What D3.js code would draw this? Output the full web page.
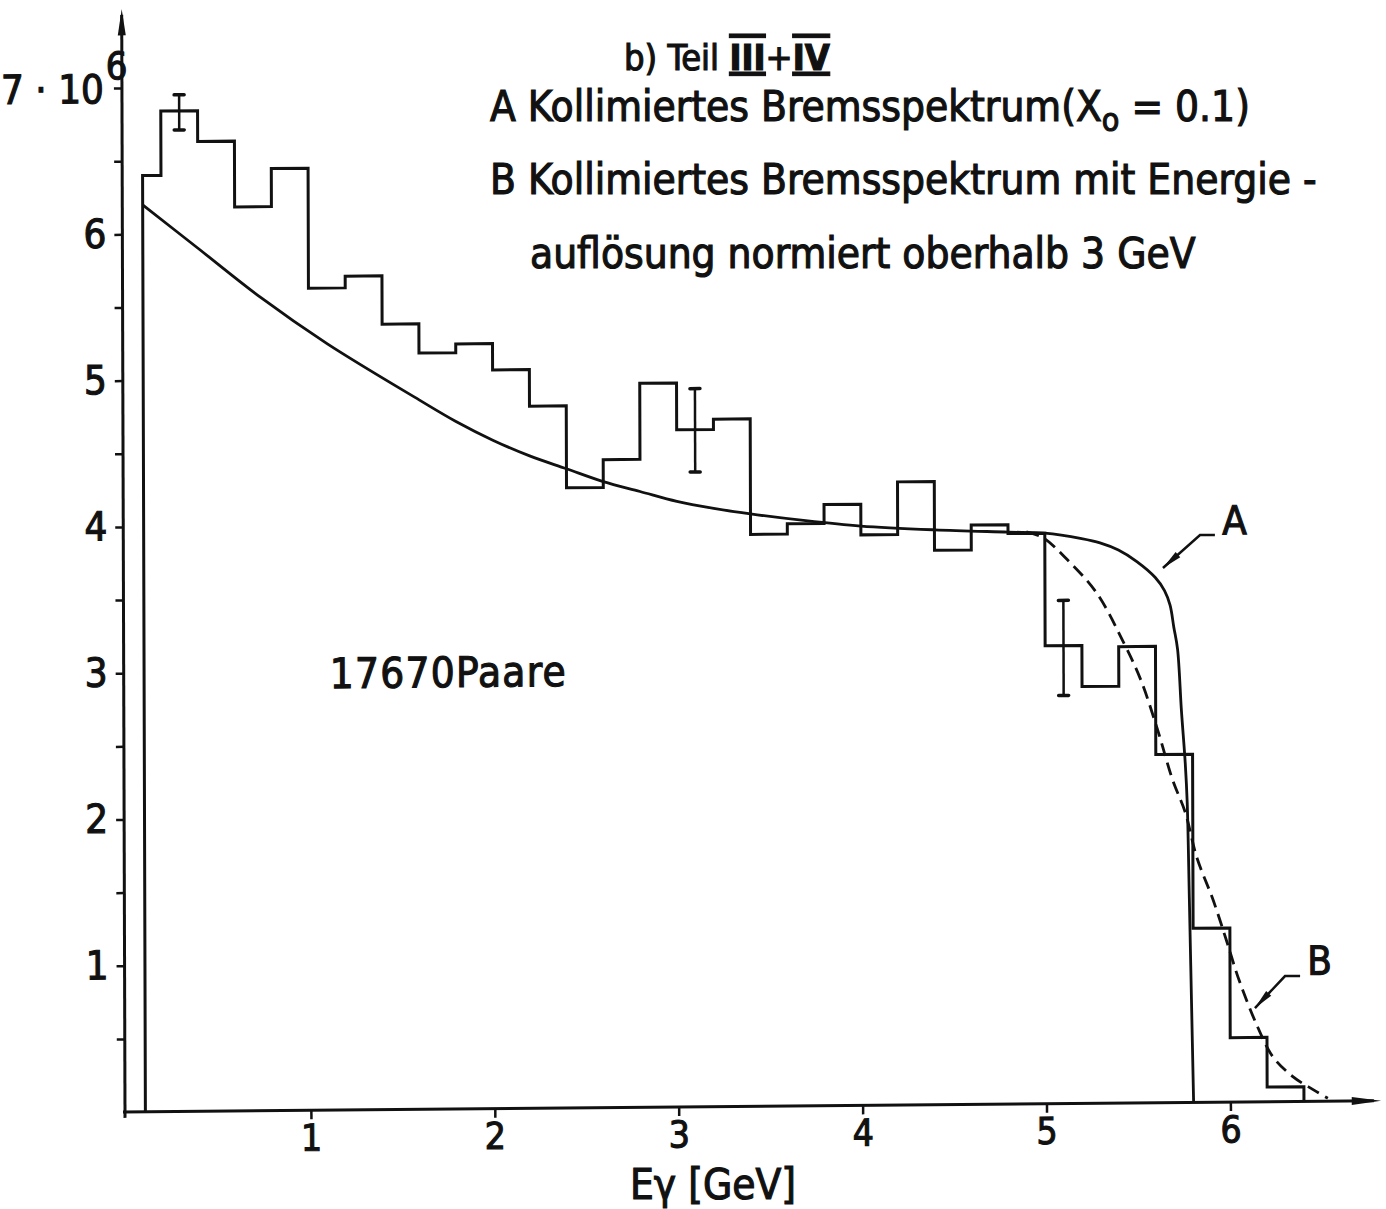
<!DOCTYPE html>
<html>
<head>
<meta charset="utf-8">
<script src="https://cdn.jsdelivr.net/npm/d3@7"></script>
<style>
  html, body { margin: 0; padding: 0; background: #fff; }
  svg { display: block; }
  text { font-family: "DejaVu Sans Condensed", "DejaVu Sans", sans-serif; font-stretch: condensed; fill: #111; stroke: #111; stroke-width: 1.1px; }
</style>
</head>
<body>
<svg id="chart" width="1386" height="1209"></svg>
<script>
// Photon energy bin edges [GeV] of the measured pair spectrum
const binEdges = [0.1, 0.2, 0.4, 0.6, 0.8, 1.0, 1.2, 1.4, 1.6, 1.8, 2.0, 2.2, 2.4, 2.6, 2.8, 3.0,
                  3.2, 3.4, 3.6, 3.8, 4.0, 4.2, 4.4, 4.6, 4.8, 5.0, 5.2, 5.4, 5.6, 5.8, 6.0, 6.2, 6.4];
// Counts per bin, in units of 10^6
const binCounts = [6.40, 6.84, 6.63, 6.18, 6.44, 5.62, 5.70, 5.37, 5.17, 5.23, 5.05, 4.80, 4.24, 4.43, 4.95, 4.63,
                   4.70, 3.91, 3.98, 4.11, 3.90, 4.26, 3.79, 3.96, 3.90, 3.13, 2.85, 3.12, 2.38, 1.19, 0.44, 0.10];

// Statistical error bars on selected bins
const errEnergy = [0.30, 3.10, 5.10];
const errLow    = [6.71, 4.34, 2.79];
const errHigh   = [6.95, 4.91, 3.44];

// Curve A: collimated bremsstrahlung spectrum (X0 = 0.1)
const curveAEnergy = [0.10, 0.40, 0.74, 1.10, 1.60, 1.80, 2.00, 2.20, 2.40, 2.60, 2.80, 3.00, 3.20, 3.40, 3.70, 4.00,
                      4.40, 4.80, 5.00, 5.20, 5.30, 5.40, 5.50, 5.60, 5.65, 5.68, 5.70, 5.72, 5.74, 5.76, 5.77, 5.78, 5.79, 5.80];
const curveAValue  = [6.20, 5.90, 5.56, 5.24, 4.85, 4.70, 4.57, 4.46, 4.37, 4.28, 4.21, 4.14, 4.09, 4.05, 4.00, 3.96,
                      3.93, 3.91, 3.90, 3.86, 3.83, 3.78, 3.70, 3.59, 3.50, 3.40, 3.25, 3.10, 2.68, 2.32, 2.05, 1.40, 0.70, 0.00];

// Curve B: collimated spectrum folded with energy resolution, normalised above 3 GeV
const curveBEnergy = [4.90, 4.99, 5.12, 5.28, 5.43, 5.52, 5.61, 5.69, 5.76, 5.82, 5.91, 5.98, 6.05, 6.15, 6.23, 6.34, 6.45, 6.53];
const curveBValue  = [3.91, 3.87, 3.72, 3.49, 3.14, 2.89, 2.55, 2.21, 1.98, 1.68, 1.38, 1.11, 0.83, 0.51, 0.31, 0.17, 0.08, 0.02];

// Axis ticks
const xTickValues = [1, 2, 3, 4, 5, 6];
const yTickValues = [0.5, 1, 1.5, 2, 2.5, 3, 3.5, 4, 4.5, 5, 5.5, 6, 6.5, 7];
const yTickLabels = ["", "1", "", "2", "", "3", "", "4", "", "5", "", "6", "", ""];

const svg = d3.select("#chart");
const ox = 127, oy = 1112;
const x = d3.scaleLinear().domain([0, 6]).range([ox, ox + 6 * 183.9]);
const y = d3.scaleLinear().domain([0, 7]).range([oy, 88]);

// Slightly tilted drawing frame of the plotted sheet
const plot = svg.append("g")
  .attr("transform", `translate(${ox},${oy}) matrix(1,-0.009,0.003,1,0,0) translate(${-ox},${-oy})`);

const ink = "#111";

// ---- axes ----
const axisX = 125;
plot.append("line").attr("x1", axisX).attr("x2", axisX).attr("y1", y(-0.04)).attr("y2", y(7.5))
  .attr("stroke", ink).attr("stroke-width", 3);
plot.append("path")
  .attr("d", `M${axisX},${y(7.54)} L${axisX - 4},${y(7.36)} L${axisX + 4},${y(7.36)} Z`)
  .attr("fill", ink);
plot.append("line").attr("x1", axisX - 2).attr("x2", x(6.78)).attr("y1", oy).attr("y2", oy)
  .attr("stroke", ink).attr("stroke-width", 3);
plot.append("path")
  .attr("d", `M${x(6.82)},${oy} L${x(6.66)},${oy - 4} L${x(6.66)},${oy + 4} Z`)
  .attr("fill", ink);

const xAxis = d3.axisBottom(x).tickValues(xTickValues).tickSize(9).tickPadding(5).tickFormat(d3.format("d"));
const gx = plot.append("g").attr("transform", `translate(0,${oy})`).call(xAxis);
gx.select(".domain").remove();
gx.selectAll(".tick line").attr("stroke", ink).attr("stroke-width", 2.5);
gx.selectAll(".tick text").attr("font-size", 37).attr("fill", ink).attr("font-family", null);

const yAxis = d3.axisLeft(y).tickValues(yTickValues).tickSize(8).tickPadding(8)
  .tickFormat((d, i) => yTickLabels[i]);
const gy = plot.append("g").attr("transform", `translate(${axisX},0)`).call(yAxis);
gy.select(".domain").remove();
gy.selectAll(".tick line").attr("stroke", ink).attr("stroke-width", 2.5);
gy.selectAll(".tick text").attr("font-size", 40).attr("fill", ink).attr("font-family", null);

// top label "7 · 10^6"
const topLab = plot.append("text").attr("x", 4).attr("y", y(7) + 15).attr("font-size", 40);
topLab.append("tspan").text("7 · 10");
topLab.append("tspan").attr("dx", 2).attr("dy", -24).attr("font-size", 38).text("6");

// ---- histogram ----
const stepPts = [[binEdges[0], 0]];
binCounts.forEach((c, i) => { stepPts.push([binEdges[i], c]); stepPts.push([binEdges[i + 1], c]); });
stepPts.push([binEdges[binEdges.length - 1], 0]);
plot.append("path")
  .attr("d", d3.line().x(d => x(d[0])).y(d => y(d[1]))(stepPts))
  .attr("fill", "none").attr("stroke", ink).attr("stroke-width", 3).attr("stroke-linejoin", "miter");

// ---- error bars ----
errEnergy.forEach((e, i) => {
  const g = plot.append("g");
  g.append("line").attr("x1", x(e)).attr("x2", x(e)).attr("y1", y(errLow[i])).attr("y2", y(errHigh[i]))
    .attr("stroke", ink).attr("stroke-width", 2.5);
  [errLow[i], errHigh[i]].forEach(v => g.append("line")
    .attr("x1", x(e) - 5).attr("x2", x(e) + 5).attr("y1", y(v)).attr("y2", y(v))
    .attr("stroke", ink).attr("stroke-width", 3.5).attr("stroke-linecap", "round"));
});

// ---- theory curves ----
const curveA = curveAEnergy.map((e, i) => [e, curveAValue[i]]);
const curveB = curveBEnergy.map((e, i) => [e, curveBValue[i]]);
const smooth = d3.line().x(d => x(d[0])).y(d => y(d[1])).curve(d3.curveCatmullRom.alpha(0.5));
plot.append("path").attr("d", smooth(curveA))
  .attr("fill", "none").attr("stroke", ink).attr("stroke-width", 2.8);
plot.append("path").attr("d", smooth(curveB))
  .attr("fill", "none").attr("stroke", ink).attr("stroke-width", 2.8).attr("stroke-dasharray", "13 7");

// ---- curve labels with leader arrows ----
function leader(pts, labelPos, label) {
  const p = pts.map(d => [x(d[0]), y(d[1])]);
  plot.append("path").attr("d", d3.line()(p)).attr("fill", "none").attr("stroke", ink).attr("stroke-width", 2.5);
  const tip = p[p.length - 1], prev = p[p.length - 2];
  const dx = tip[0] - prev[0], dy = tip[1] - prev[1], L = Math.hypot(dx, dy);
  const ux = dx / L, uy = dy / L, len = 20, w = 3.5;
  const bx = tip[0] - ux * len, by = tip[1] - uy * len;
  plot.append("path")
    .attr("d", `M${tip[0]},${tip[1]} L${bx - uy * w},${by + ux * w} L${bx + uy * w},${by - ux * w} Z`)
    .attr("fill", ink);
  plot.append("text").attr("x", x(labelPos[0])).attr("y", y(labelPos[1])).attr("font-size", 40).text(label);
}
leader([[5.925, 3.877], [5.844, 3.878], [5.642, 3.655]], [5.965, 3.88], "A");
leader([[6.381, 0.857], [6.299, 0.858], [6.135, 0.641]], [6.42, 0.865], "B");

// ---- annotations ----
plot.append("text").attr("x", 331).attr("y", 690).attr("font-size", 42).attr("letter-spacing", 1.2).text("17670Paare");

const t1 = svg.append("text").attr("x", 624).attr("y", 70).attr("font-size", 36);
t1.append("tspan").text("b) Teil ");
t1.append("tspan").attr("text-decoration", "underline overline").attr("font-weight", "bold").text("III");
t1.append("tspan").text("+");
t1.append("tspan").attr("text-decoration", "underline overline").attr("font-weight", "bold").text("IV");

const t2 = svg.append("text").attr("x", 490).attr("y", 121).attr("font-size", 42);
t2.append("tspan").text("A Kollimiertes Bremsspektrum(X");
t2.append("tspan").attr("dy", 10).attr("font-size", 32).text("o");
t2.append("tspan").attr("dy", -10).text(" = 0.1)");

svg.append("text").attr("x", 490).attr("y", 194).attr("font-size", 42)
  .text("B Kollimiertes Bremsspektrum mit Energie -");
svg.append("text").attr("x", 530).attr("y", 268).attr("font-size", 42)
  .text("auflösung normiert oberhalb 3 GeV");

svg.append("text").attr("x", 630).attr("y", 1199).attr("font-size", 42).text("Eγ  [GeV]");
</script>
</body>
</html>
